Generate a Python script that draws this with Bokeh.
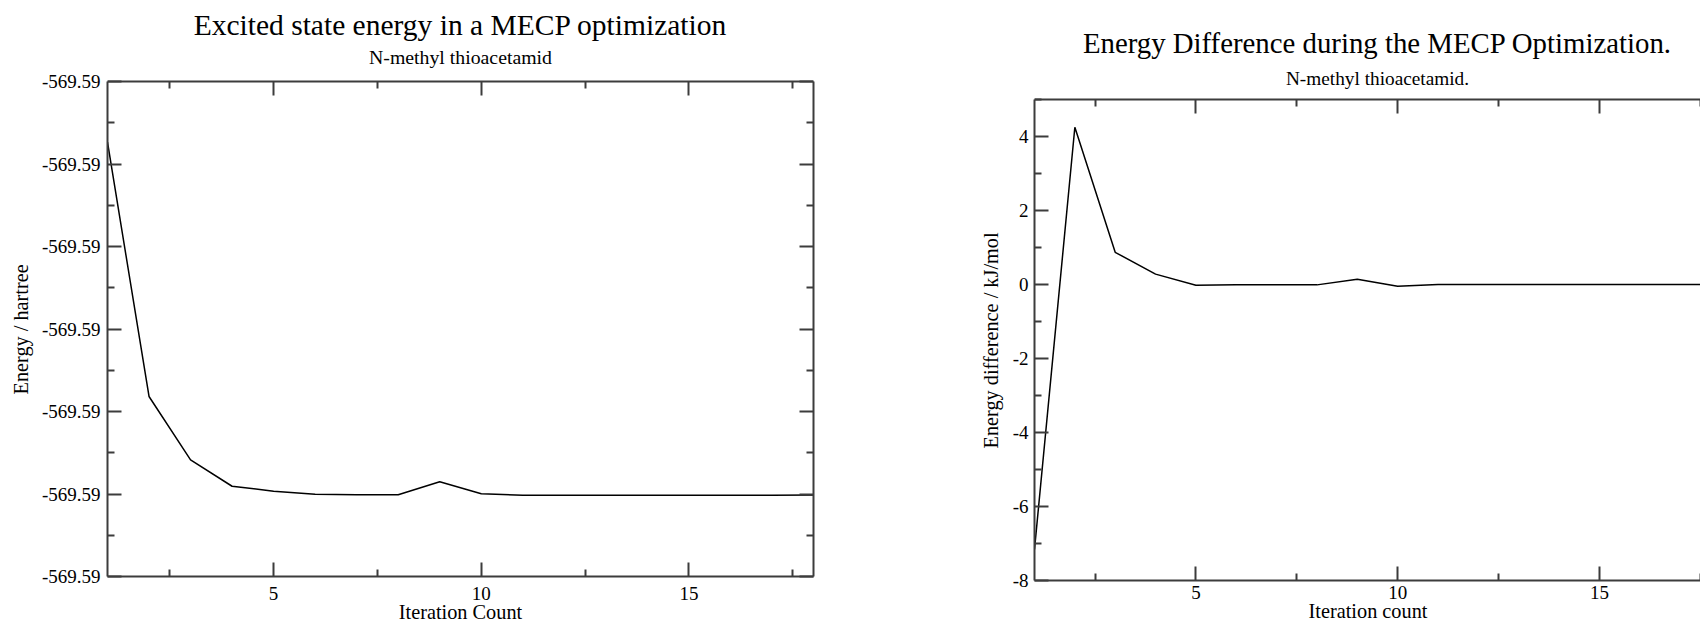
from bokeh.plotting import figure
from bokeh.models import Range1d, FixedTicker, PrintfTickFormatter, LinearAxis, Label, Title
from bokeh.layouts import row
from bokeh.embed import file_html
from bokeh.resources import INLINE

# ---------------- data ----------------
iterations = list(range(1, 19))

excited_energy = [
    -569.590368, -569.591909, -569.592293, -569.592453, -569.592483,
    -569.592501, -569.592505, -569.592505, -569.592426, -569.592499,
    -569.592507, -569.592507, -569.592508, -569.592508, -569.592507,
    -569.592507, -569.592507, -569.592506,
]

energy_difference = [
    -7.16, 4.25, 0.87, 0.28, -0.02,
    -0.01, -0.01, -0.01, 0.14, -0.05,
    0.0, 0.0, 0.0, 0.0, 0.0,
    0.0, 0.0, 0.0,
]

x_major_ticks = [5, 10, 15]
x_minor_ticks = [2.5, 7.5, 12.5, 17.5]

energy_major_ticks = [-569.593, -569.5925, -569.592, -569.5915, -569.591, -569.5905, -569.59]
energy_minor_ticks = [-569.59275, -569.59225, -569.59175, -569.59125, -569.59075, -569.59025]

diff_major_ticks = [-8, -6, -4, -2, 0, 2, 4]
diff_minor_ticks = [-7, -5, -3, -1, 1, 3, 5]

left_title = "Excited state energy in a MECP optimization"
left_subtitle = "N-methyl thioacetamid"
left_xlabel = "Iteration Count"
left_ylabel = "Energy / hartree"

right_title = "Energy Difference during the MECP Optimization."
right_subtitle = "N-methyl thioacetamid."
right_xlabel = "Iteration count"
right_ylabel = "Energy difference / kJ/mol"

# ---------------- style / geometry ----------------
FONT = "Liberation Serif"
AX = "#3c3c3c"
LABEL_SIZE = "20.3px"

LEFT_X = (1, 18)
LEFT_Y = (-569.593, -569.59)
LEFT_PLOT_H = 495     # px between bottom and top of left plot box
LEFT_TOP = 81         # px from page top to left plot box

RIGHT_X = (1, 17.53)  # right chart is cut by the window edge
RIGHT_Y = (-8, 5)
RIGHT_PLOT_H = 481
RIGHT_TOP = 99


def style_axis(ax, majors, minors, labels=True, fmt=None):
    ax.ticker = FixedTicker(ticks=majors, minor_ticks=minors)
    ax.axis_line_color = AX
    ax.axis_line_width = 2
    ax.major_tick_in = 14
    ax.major_tick_out = 0
    ax.minor_tick_in = 7
    ax.minor_tick_out = 0
    ax.major_tick_line_color = AX
    ax.major_tick_line_width = 2
    ax.minor_tick_line_color = AX
    ax.minor_tick_line_width = 2
    if fmt is not None:
        ax.formatter = fmt
    if labels:
        ax.major_label_text_font = FONT
        ax.major_label_text_font_size = "19px"
        ax.major_label_text_color = "black"
        ax.axis_label_text_font = FONT
        ax.axis_label_text_font_size = LABEL_SIZE
        ax.axis_label_text_font_style = "normal"
        ax.axis_label_text_color = "black"
    else:
        ax.major_label_text_font_size = "1px"
        ax.major_label_text_alpha = 0
        ax.major_label_standoff = 0


def make_fig(fw, fh, left, right, xr, yr):
    p = figure(frame_width=fw, frame_height=fh,
               min_border_left=left, min_border_right=right,
               min_border_top=0, min_border_bottom=30,
               x_range=xr, y_range=yr,
               output_backend="svg", toolbar_location=None)
    p.xgrid.visible = False
    p.ygrid.visible = False
    p.outline_line_color = None
    p.background_fill_color = "white"
    p.border_fill_color = "white"
    return p


def title_label(text, x, y, size):
    return Label(x=x, y=y, text=text, text_align="center", text_baseline="middle",
                 text_font=FONT, text_font_size=size, text_color="black")


def side_label(text, offset, standoff):
    return Title(text=text, align="left", vertical_align="bottom", offset=offset,
                 standoff=standoff, text_font=FONT, text_font_size=LABEL_SIZE,
                 text_font_style="normal", text_color="black")


# ---------------- left chart ----------------
u1 = (LEFT_Y[1] - LEFT_Y[0]) / LEFT_PLOT_H          # data units per pixel
p1 = make_fig(706, LEFT_PLOT_H + LEFT_TOP, 106, 38,
              Range1d(*LEFT_X), Range1d(LEFT_Y[0], LEFT_Y[1] + LEFT_TOP * u1))
p1.line(iterations, excited_energy, line_color="black", line_width=1.5)

style_axis(p1.xaxis[0], x_major_ticks, x_minor_ticks)
p1.xaxis[0].axis_label = left_xlabel
p1.xaxis[0].major_label_standoff = 10
p1.xaxis[0].axis_label_standoff = -2

style_axis(p1.yaxis[0], energy_major_ticks, energy_minor_ticks,
           fmt=PrintfTickFormatter(format="%.2f"))
p1.yaxis[0].major_label_standoff = 7
p1.yaxis[0].bounds = LEFT_Y
p1.add_layout(side_label(left_ylabel, 182, 14), "left")

top1 = LinearAxis(fixed_location=LEFT_Y[1])
style_axis(top1, x_major_ticks, x_minor_ticks, labels=False)
p1.add_layout(top1, "above")
right1 = LinearAxis(bounds=LEFT_Y)
style_axis(right1, energy_major_ticks, energy_minor_ticks, labels=False)
p1.add_layout(right1, "right")

xc1 = (LEFT_X[0] + LEFT_X[1]) / 2
p1.add_layout(title_label(left_title, xc1, LEFT_Y[1] + (LEFT_TOP - 24.3) * u1, "29.5px"))
p1.add_layout(title_label(left_subtitle, xc1, LEFT_Y[1] + (LEFT_TOP - 56) * u1, "19.8px"))

# ---------------- right chart ----------------
u2 = (RIGHT_Y[1] - RIGHT_Y[0]) / RIGHT_PLOT_H
p2 = make_fig(667, RIGHT_PLOT_H + RIGHT_TOP, 183, 0,
              Range1d(*RIGHT_X), Range1d(RIGHT_Y[0], RIGHT_Y[1] + RIGHT_TOP * u2))
p2.line(iterations, energy_difference, line_color="black", line_width=1.5)

style_axis(p2.xaxis[0], x_major_ticks, x_minor_ticks)
p2.xaxis[0].axis_label = right_xlabel
p2.xaxis[0].major_label_standoff = 5
p2.xaxis[0].axis_label_standoff = -2

style_axis(p2.yaxis[0], diff_major_ticks, diff_minor_ticks,
           fmt=PrintfTickFormatter(format="%d"))
p2.yaxis[0].major_label_standoff = 6
p2.yaxis[0].bounds = RIGHT_Y
p2.add_layout(side_label(right_ylabel, 132, 16), "left")

top2 = LinearAxis(fixed_location=RIGHT_Y[1])
style_axis(top2, x_major_ticks, x_minor_ticks, labels=False)
p2.add_layout(top2, "above")

xc2 = (1 + 18) / 2
p2.add_layout(title_label(right_title, xc2, RIGHT_Y[1] + (RIGHT_TOP - 42.8) * u2, "28.8px"))
p2.add_layout(title_label(right_subtitle, xc2, RIGHT_Y[1] + (RIGHT_TOP - 77.5) * u2, "19.3px"))

layout = row(p1, p2, spacing=0)

open("out.html", "w").write(file_html(layout, INLINE))
